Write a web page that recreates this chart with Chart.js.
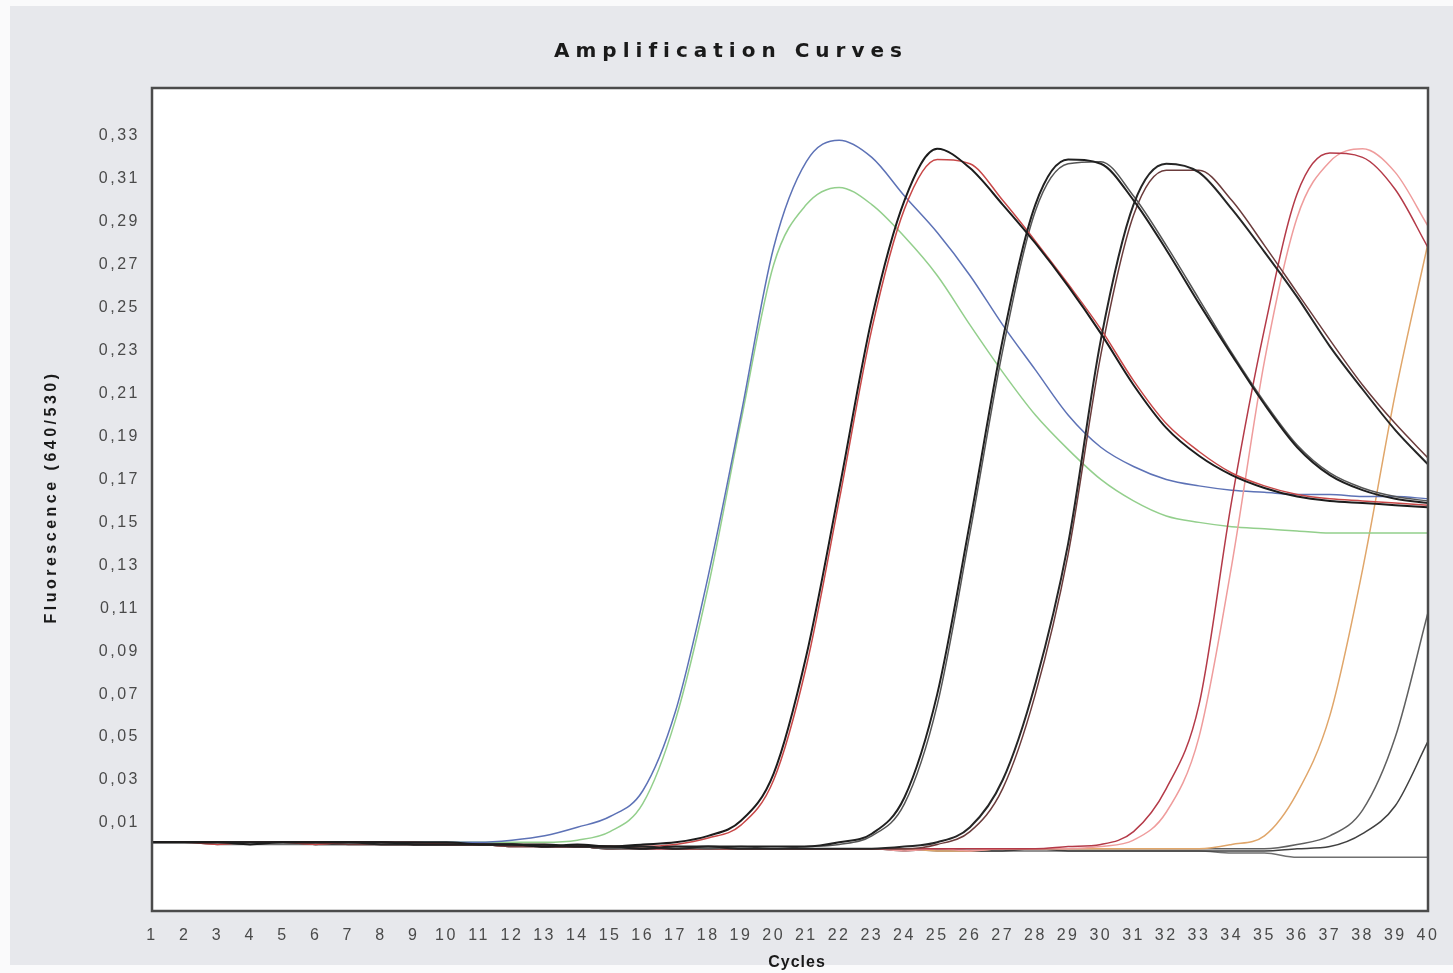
<!DOCTYPE html>
<html>
<head>
<meta charset="utf-8">
<title>Amplification Curves</title>
<script src="https://cdn.jsdelivr.net/npm/chart.js@4.4.1/dist/chart.umd.min.js"></script>
<style>
  html, body { margin: 0; padding: 0; background: #fff; }
  #wrap { width: 1453px; height: 973px; }
</style>
</head>
<body>
<div id="wrap"><canvas id="ampChart" width="1453" height="973"></canvas></div>
<script>
/* Amplification curves (qPCR) */

const chartTitle = "Amplification Curves";
const yAxisTitle = "Fluorescence (640/530)";
const xAxisTitle = "Cycles";

const cycles = [1,2,3,4,5,6,7,8,9,10,11,12,13,14,15,16,17,18,19,20,
                21,22,23,24,25,26,27,28,29,30,31,32,33,34,35,36,37,38,39,40];
const yTickValues = [0.01,0.03,0.05,0.07,0.09,0.11,0.13,0.15,0.17,0.19,0.21,0.23,0.25,0.27,0.29,0.31,0.33];

const blueCurve = [
  0.001,0.001,0.001,0.001,0.001,0.001,0.001,0.001,0.001,0.001,
  0.001,0.002,0.004,0.008,0.013,0.025,0.062,0.125,0.200,0.278,
  0.318,0.328,0.320,0.302,0.285,0.265,0.242,0.221,0.200,0.185,
  0.176,0.170,0.167,0.165,0.164,0.163,0.163,0.162,0.162,0.161];
const greenCurve = [
  0.001,0.001,0.001,0.001,0.001,0.001,0.001,0.001,0.001,0.001,
  0.001,0.001,0.001,0.002,0.006,0.019,0.058,0.120,0.197,0.270,
  0.298,0.306,0.298,0.283,0.265,0.242,0.220,0.200,0.184,0.170,
  0.160,0.153,0.150,0.148,0.147,0.146,0.145,0.145,0.145,0.145];
const black25 = [
  0.001,0.001,0.001,0.000,0.001,0.001,0.001,0.001,0.001,0.001,
  0.000,0.000,-0.001,0.000,-0.001,0.000,0.001,0.004,0.011,0.033,
  0.088,0.165,0.245,0.300,0.324,0.315,0.298,0.280,0.260,0.238,
  0.214,0.194,0.181,0.172,0.166,0.162,0.160,0.159,0.158,0.157];
const red25 = [
  0.001,0.001,0.000,0.001,0.001,0.000,0.001,0.001,0.001,0.000,
  0.000,0.000,-0.001,-0.001,-0.001,-0.001,0.000,0.003,0.009,0.030,
  0.083,0.160,0.240,0.296,0.319,0.317,0.300,0.281,0.261,0.240,
  0.216,0.196,0.183,0.173,0.167,0.163,0.161,0.160,0.159,0.158];
const black29 = [
  0.001,0.001,0.001,0.001,0.001,0.001,0.001,0.001,0.000,0.000,
  0.000,0.000,0.000,-0.001,-0.001,-0.002,-0.001,-0.001,-0.001,-0.001,
  -0.001,0.001,0.005,0.022,0.070,0.150,0.235,0.298,0.319,0.317,
  0.300,0.277,0.252,0.228,0.205,0.185,0.172,0.165,0.161,0.159];
const grey29 = [
  0.001,0.001,0.001,0.001,0.001,0.000,0.001,0.001,0.000,0.000,
  0.000,0.000,-0.001,-0.001,-0.002,-0.002,-0.001,-0.002,-0.001,-0.002,
  -0.001,0.000,0.004,0.019,0.065,0.145,0.230,0.295,0.317,0.318,
  0.302,0.279,0.254,0.229,0.206,0.186,0.173,0.166,0.162,0.160];
const black32 = [
  0.001,0.001,0.001,0.001,0.001,0.001,0.001,0.000,0.000,0.000,
  0.000,0.000,-0.001,-0.001,-0.001,-0.001,-0.002,-0.001,-0.002,-0.002,
  -0.002,-0.002,-0.002,-0.001,0.001,0.008,0.030,0.075,0.140,0.235,
  0.298,0.317,0.313,0.296,0.276,0.255,0.232,0.212,0.193,0.177];
const dark32 = [
  0.001,0.001,0.001,0.001,0.001,0.001,0.000,0.000,0.000,0.000,
  0.000,-0.001,-0.001,-0.001,-0.002,-0.001,-0.002,-0.002,-0.002,-0.002,
  -0.002,-0.002,-0.002,-0.002,0.000,0.006,0.026,0.070,0.135,0.228,
  0.293,0.314,0.314,0.300,0.279,0.257,0.235,0.214,0.196,0.180];
const red37 = [
  0.001,0.001,0.001,0.001,0.001,0.001,0.001,0.001,0.000,0.000,
  0.000,0.000,-0.001,-0.001,-0.001,-0.002,-0.002,-0.002,-0.002,-0.002,
  -0.002,-0.002,-0.002,-0.002,-0.002,-0.002,-0.002,-0.002,-0.001,0.000,
  0.006,0.026,0.065,0.160,0.240,0.303,0.322,0.320,0.305,0.278];
const pink37 = [
  0.001,0.001,0.001,0.001,0.001,0.001,0.001,0.000,0.000,0.000,
  0.000,-0.001,-0.001,-0.001,-0.002,-0.002,-0.002,-0.002,-0.002,-0.002,
  -0.002,-0.002,-0.002,-0.003,-0.002,-0.003,-0.002,-0.002,-0.002,-0.001,
  0.002,0.015,0.050,0.130,0.225,0.292,0.318,0.324,0.313,0.288];
const orangeCurve = [
  0.001,0.001,0.001,0.001,0.001,0.001,0.001,0.001,0.001,0.000,
  0.000,0.000,0.000,-0.001,-0.001,-0.001,-0.002,-0.002,-0.002,-0.002,
  -0.002,-0.002,-0.002,-0.002,-0.003,-0.003,-0.002,-0.002,-0.002,-0.002,
  -0.002,-0.002,-0.002,0.000,0.004,0.024,0.060,0.128,0.210,0.280];
const grey40a = [
  0.001,0.001,0.001,0.001,0.001,0.001,0.001,0.001,0.000,0.000,
  0.000,0.000,-0.001,-0.001,-0.001,-0.001,-0.002,-0.002,-0.002,-0.002,
  -0.002,-0.002,-0.002,-0.002,-0.002,-0.002,-0.002,-0.002,-0.002,-0.002,
  -0.002,-0.002,-0.002,-0.002,-0.002,0.000,0.004,0.016,0.050,0.108];
const grey40b = [
  0.001,0.001,0.001,0.001,0.001,0.000,0.000,0.000,0.000,0.000,
  0.000,-0.001,-0.001,-0.001,-0.002,-0.002,-0.002,-0.002,-0.002,-0.002,
  -0.002,-0.002,-0.002,-0.003,-0.002,-0.003,-0.003,-0.002,-0.003,-0.003,
  -0.003,-0.003,-0.003,-0.003,-0.003,-0.002,-0.001,0.005,0.018,0.048];
const negControl = [
  0.001,0.001,0.000,0.000,0.000,0.000,0.000,0.000,0.000,0.000,
  0.000,-0.001,-0.001,-0.001,-0.002,-0.002,-0.002,-0.002,-0.002,-0.002,
  -0.002,-0.002,-0.002,-0.002,-0.003,-0.003,-0.003,-0.003,-0.003,-0.003,
  -0.003,-0.003,-0.003,-0.004,-0.004,-0.006,-0.006,-0.006,-0.006,-0.006];

// first entry ends up on top (Chart.js draws datasets in reverse)
const seriesList = [
  { name: "Sample 25a", values: black25, color: "#1c1c1c", width: 2 },
  { name: "Sample 29a", values: black29, color: "#202020", width: 2 },
  { name: "Sample 32a", values: black32, color: "#262626", width: 2 },
  { name: "Sample 25b", values: red25, color: "#c84848", width: 1.5 },
  { name: "Sample 29b", values: grey29, color: "#555555", width: 1.5 },
  { name: "Sample 32b", values: dark32, color: "#6b3c3c", width: 1.5 },
  { name: "Sample 37a", values: red37, color: "#b43a48", width: 1.5 },
  { name: "Sample 37b", values: pink37, color: "#ef9c9c", width: 1.5 },
  { name: "Sample 22a", values: blueCurve, color: "#5d72b6", width: 1.5 },
  { name: "Sample 22b", values: greenCurve, color: "#93cf8c", width: 1.5 },
  { name: "Sample 39", values: orangeCurve, color: "#e0a66a", width: 1.5 },
  { name: "Sample 40a", values: grey40a, color: "#606060", width: 1.5 },
  { name: "Sample 40b", values: grey40b, color: "#404040", width: 1.5 },
  { name: "Negative", values: negControl, color: "#6f6f6f", width: 1.5 }
];

const frameAndTitles = {
  id: 'frameAndTitles',
  beforeDraw(chart) {
    const { ctx, chartArea: a, width, height } = chart;
    ctx.save();
    ctx.fillStyle = '#fafafb';
    ctx.fillRect(0, 0, width, height);
    ctx.fillStyle = '#e7e8ec';
    ctx.fillRect(10, 6, width - 10, height - 14);
    ctx.fillStyle = '#ffffff';
    ctx.fillRect(a.left, a.top, a.right - a.left, a.bottom - a.top);
    ctx.restore();
    ctx.letterSpacing = '2.5px'; // tick labels in the original are spread out
  },
  afterDraw(chart) {
    const { ctx, chartArea: a } = chart;
    ctx.save();
    ctx.strokeStyle = '#4b4b4b';
    ctx.lineWidth = 2.5;
    ctx.strokeRect(a.left, a.top, a.right - a.left, a.bottom - a.top);

    ctx.fillStyle = '#1a1a1a';
    ctx.textAlign = 'center';
    ctx.textBaseline = 'middle';
    ctx.letterSpacing = '6px';
    ctx.font = 'bold 20px "DejaVu Sans"';
    ctx.fillText(chartTitle, 731, 52);

    ctx.letterSpacing = '1px';
    ctx.font = 'bold 16px "Liberation Sans"';
    ctx.fillText(xAxisTitle, 797, 963);

    ctx.translate(52, 497);
    ctx.rotate(-Math.PI / 2);
    ctx.letterSpacing = '3.5px';
    ctx.font = 'bold 16px "Liberation Sans"';
    ctx.fillText(yAxisTitle, 0, 0);
    ctx.restore();
  }
};

const ctx = document.getElementById('ampChart').getContext('2d');

new Chart(ctx, {
  type: 'line',
  data: {
    datasets: seriesList.map(s => ({
      label: s.name,
      data: cycles.map((c, i) => ({ x: c, y: s.values[i] })),
      borderColor: s.color,
      borderWidth: s.width,
      pointRadius: 0,
      fill: false,
      cubicInterpolationMode: 'monotone'
    }))
  },
  options: {
    responsive: false,
    animation: false,
    devicePixelRatio: 1,
    layout: { padding: { top: 88, right: 25, left: 30, bottom: 0 } },
    plugins: {
      legend: { display: false },
      title: { display: false },
      tooltip: { enabled: false }
    },
    scales: {
      x: {
        type: 'linear',
        min: 1,
        max: 40,
        grid: { display: false, drawTicks: false },
        border: { display: false },
        afterBuildTicks: scale => { scale.ticks = cycles.map(v => ({ value: v })); },
        afterFit: scale => { scale.height = 62; },
        ticks: {
          autoSkip: false,
          maxRotation: 0,
          padding: 15,
          color: '#4a4a4a',
          font: { family: 'Liberation Sans', size: 16 },
          callback: v => String(v)
        }
      },
      y: {
        min: -0.031,
        max: 0.3523,
        grid: { display: false, drawTicks: false },
        border: { display: false },
        afterBuildTicks: scale => { scale.ticks = yTickValues.map(v => ({ value: v })); },
        afterFit: scale => { scale.width = 122; },
        ticks: {
          padding: 12,
          color: '#4a4a4a',
          font: { family: 'Liberation Sans', size: 16 },
          callback: v => v.toFixed(2).replace('.', ',')
        }
      }
    }
  },
  plugins: [frameAndTitles]
});
</script>
</body>
</html>
